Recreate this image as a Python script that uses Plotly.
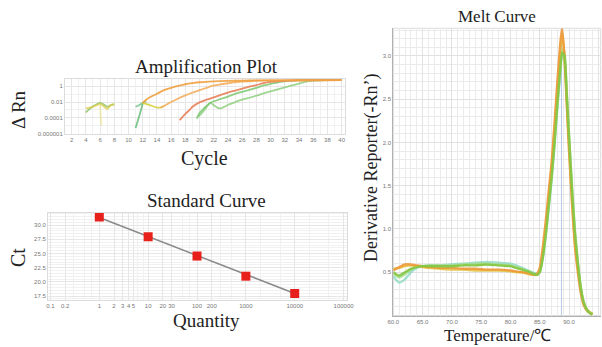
import plotly.graph_objects as go

# ---------------- Amplification plot data (cycle, delta Rn) ----------------
noise_g_x = [4, 4.5, 5, 5.5, 6, 6.5, 7, 7.5, 8]
noise_g_y = [5e-4, 1.3e-3, 3e-3, 5e-3, 8e-3, 5e-3, 2.5e-3, 4e-3, 5e-3]
noise_y_x = [4, 5, 5.5, 6, 6.5, 7, 7.5, 8]
noise_y_y = [1.6e-3, 2.5e-3, 4e-3, 6e-3, 3e-3, 1.3e-3, 4e-3, 6e-3]
drop_x = [6, 6.1, 6.2]
drop_y = [4e-3, 1e-4, 1e-5]
g1a_x = [11, 11.5, 12]
g1a_y = [5e-6, 1.6e-4, 6e-3]
g1b_x = [11, 11.5, 12, 12.5]
g1b_y = [2.5e-3, 4e-3, 8e-3, 1.2e-2]
a_x = [12, 12.5, 13, 14, 15, 16, 17, 18, 19, 20, 22, 24, 26, 28, 30, 34, 40]
a_y = [8e-3, 0.02, 0.04, 0.11, 0.32, 0.63, 1.1, 1.8, 2.5, 3.2, 4.2, 4.8, 5.2, 5.5, 5.6, 5.75, 5.9]
dip_x = [12, 13, 14, 14.5, 15]
dip_y = [8e-3, 4e-3, 2e-3, 2e-3, 3.2e-3]
b_x = [14.5, 15, 16, 17, 18, 19, 20, 21, 22, 23, 24, 26, 28, 30, 34, 40]
b_y = [2e-3, 3.2e-3, 0.01, 0.028, 0.07, 0.16, 0.32, 0.63, 1.26, 1.8, 2.4, 3.8, 5.0, 5.5, 5.75, 5.9]
c_x = [17.2, 18, 18.6, 19, 20, 21, 22, 23, 24, 25, 26, 27, 28, 29, 30, 32, 34, 40]
c_y = [5e-5, 3.2e-4, 1e-3, 2.5e-3, 9e-3, 0.02, 0.04, 0.08, 0.16, 0.28, 0.5, 0.9, 1.4, 2.5, 3.5, 5.0, 5.6, 5.9]
d_x = [19.6, 20, 20.5, 21, 21.5, 22, 23, 24, 25, 26, 27, 28, 29, 30, 31, 32, 33, 34, 36, 40]
d_y = [8e-5, 4e-4, 1.3e-3, 3.2e-3, 8e-3, 0.0126, 0.025, 0.05, 0.11, 0.2, 0.35, 0.63, 1.26, 2.0, 3.2, 4.2, 5.2, 6.0, 6.3, 6.3]
e_x = [19.8, 20.5, 21.5, 22, 22.5, 23, 23.5, 24, 25, 26, 27, 28, 29, 30, 31, 32, 33, 34, 35, 36, 38, 40]
e_y = [1.3e-4, 6e-4, 8e-3, 4e-3, 2e-3, 1.6e-3, 2.5e-3, 4.5e-3, 0.01, 0.02, 0.035, 0.063, 0.126, 0.22, 0.4, 0.7, 1.26, 2.2, 4.0, 5.2, 6.0, 6.3]

amp_ytickvals = [1, 0.01, 0.0001, 0.000001]
amp_yticktext = ["1", "0.01", "0.0001", "0.000001"]
amp_xtickvals = list(range(2, 41, 2))

# ---------------- Standard curve data ----------------
std_qty = [1, 10, 100, 1000, 10000]
std_ct = [31.45, 27.95, 24.55, 21.0, 17.95]
std_xtickvals = [0.1, 0.2, 1, 2, 3, 4, 5, 10, 20, 30, 100, 200, 1000, 10000, 100000]
std_xticktext = ["0.1", "0.2", "1", "2", "3", "4", "5", "10", "20", "30", "100", "200", "1000", "10000", "100000"]
fit_qty = [1, 10000]
fit_ct = [31.35, 17.95]

# ---------------- Melt curve data ----------------
melt_t = [60, 61, 62, 63, 64, 65, 66, 68, 70, 72, 74, 76, 78, 80, 81, 82, 83, 84,
          84.5, 85, 85.5, 86, 86.5, 87, 87.5, 88, 88.5, 88.8, 89.2, 89.6, 90, 90.5,
          91, 91.5, 92, 92.5, 93, 93.5, 94]
melt_orange = [0.52, 0.56, 0.59, 0.59, 0.58, 0.57, 0.56, 0.55, 0.55, 0.54, 0.54, 0.53, 0.53, 0.52,
               0.51, 0.50, 0.49, 0.47, 0.48, 0.55, 0.78, 1.08, 1.42, 1.75, 2.2, 2.7, 3.15, 3.32,
               3.02, 2.45, 1.9, 1.3, 0.8, 0.5, 0.26, 0.12, 0.06, 0.03, 0.01]
melt_yellow = [0.54, 0.55, 0.57, 0.58, 0.57, 0.56, 0.55, 0.54, 0.53, 0.53, 0.52, 0.52, 0.52, 0.51,
               0.50, 0.50, 0.48, 0.47, 0.47, 0.52, 0.72, 1.0, 1.35, 1.7, 2.12, 2.62, 3.05, 3.26,
               3.0, 2.5, 1.95, 1.35, 0.85, 0.55, 0.3, 0.14, 0.07, 0.04, 0.02]
melt_green = [0.5, 0.46, 0.5, 0.54, 0.56, 0.57, 0.57, 0.57, 0.57, 0.58, 0.58, 0.59, 0.58, 0.57,
              0.55, 0.53, 0.51, 0.48, 0.47, 0.5, 0.66, 0.92, 1.25, 1.58, 1.98, 2.45, 2.85, 3.04,
              3.0, 2.55, 2.05, 1.45, 0.95, 0.6, 0.32, 0.15, 0.07, 0.03, 0.01]
melt_lgreen = [0.48, 0.44, 0.48, 0.53, 0.56, 0.57, 0.58, 0.58, 0.58, 0.59, 0.6, 0.6, 0.59, 0.58,
               0.56, 0.54, 0.51, 0.48, 0.47, 0.5, 0.68, 0.95, 1.3, 1.62, 2.0, 2.45, 2.85, 3.08,
               3.05, 2.6, 2.1, 1.5, 1.0, 0.62, 0.33, 0.16, 0.08, 0.04, 0.02]
melt_teal = [0.45, 0.38, 0.42, 0.5, 0.55, 0.57, 0.58, 0.58, 0.59, 0.6, 0.61, 0.62, 0.61, 0.6,
             0.58, 0.55, 0.52, 0.49, 0.48, 0.5, 0.66, 0.9, 1.22, 1.55, 1.95, 2.4, 2.8, 3.0,
             2.98, 2.55, 2.05, 1.45, 0.95, 0.6, 0.32, 0.15, 0.07, 0.03, 0.01]
melt_marker_t = 88.7

W, H = 602, 347
SERIF = "Liberation Serif"
TICKF = dict(family="Liberation Sans", size=6, color="#777")


def px_x(p):
    return p / W


def px_y(p):
    return 1 - p / H


fig = go.Figure()

amp_series = [
    (noise_g_x, noise_g_y, "#88c060", 0.8),
    (noise_y_x, noise_y_y, "#e0d050", 0.8),
    (drop_x, drop_y, "#e8e070", 0.5),
    (g1a_x, g1a_y, "#60b870", 0.8),
    (g1b_x, g1b_y, "#70c080", 0.8),
    (dip_x, dip_y, "#d8d040", 0.9),
    (e_x, e_y, "#90d080", 0.85),
    (d_x, d_y, "#7cc870", 0.85),
    (c_x, c_y, "#e8805a", 0.9),
    (b_x, b_y, "#f4b060", 0.9),
    (a_x, a_y, "#f0a040", 0.9),
]
for xs, ys, col, op in amp_series:
    fig.add_trace(go.Scatter(x=xs, y=ys, mode="lines", xaxis="x", yaxis="y",
                             line=dict(color=col, width=1.8, shape="spline", smoothing=0.6),
                             opacity=op, hoverinfo="skip", showlegend=False))

fig.add_trace(go.Scatter(x=fit_qty, y=fit_ct, mode="lines", xaxis="x2", yaxis="y2",
                         line=dict(color="#8a8a8a", width=1.5), showlegend=False))
fig.add_trace(go.Scatter(x=std_qty, y=std_ct, mode="markers", xaxis="x2", yaxis="y2",
                         marker=dict(symbol="square", size=9, color="#e8201c"), showlegend=False))

melt_series = [
    (melt_teal, "#7fd6bc", 0.7),
    (melt_lgreen, "#a8dc8c", 0.8),
    (melt_yellow, "#e2c440", 0.85),
    (melt_orange, "#ef9a3a", 0.9),
    (melt_green, "#86c846", 0.95),
]
fig.add_trace(go.Scatter(x=[melt_marker_t, melt_marker_t], y=[0, 3.32], mode="lines",
                         xaxis="x3", yaxis="y3", line=dict(color="#b8c8e8", width=1),
                         showlegend=False))
for ys, col, op in melt_series:
    fig.add_trace(go.Scatter(x=melt_t, y=ys, mode="lines", xaxis="x3", yaxis="y3",
                             line=dict(color=col, width=2.4, shape="spline", smoothing=0.5),
                             opacity=op, showlegend=False))

GRID = "#e6e6e6"
MINOR = "#f1f1f1"
common = dict(automargin=False, zeroline=False, ticks="", tickfont=TICKF, tickangle=0)

fig.update_layout(
    width=W, height=H, margin=dict(l=0, r=0, t=0, b=0, autoexpand=False),
    paper_bgcolor="white", plot_bgcolor="white", showlegend=False,
    xaxis=dict(domain=[px_x(65), px_x(345)], range=[1.06, 40.47], anchor="y",
               tickvals=amp_xtickvals, showgrid=True, gridcolor=GRID,
               minor=dict(dtick=1, showgrid=True, gridcolor=MINOR),
               showline=True, linecolor="#dcdcdc", mirror=True, **common),
    yaxis=dict(domain=[px_y(134), px_y(79)], type="log", range=[-6.05, 0.92], anchor="x",
               tickvals=amp_ytickvals, ticktext=amp_yticktext,
               showgrid=True, gridcolor=GRID,
               minor=dict(tickvals=[1e-5, 1e-3, 1e-1, 10], showgrid=True, gridcolor=MINOR),
               showline=True, linecolor="#dcdcdc", mirror=True, **common),
    xaxis2=dict(domain=[px_x(48), px_x(347)], type="log", range=[-1.05, 5.07], anchor="y2",
                tickvals=std_xtickvals, ticktext=std_xticktext,
                showgrid=True, gridcolor=GRID,
                minor=dict(tickvals=[0.3, 0.5, 0.7, 6, 8, 50, 70, 300, 500, 2000, 5000, 20000, 50000],
                           showgrid=True, gridcolor=MINOR),
                showline=True, linecolor="#dcdcdc", mirror=True, **common),
    yaxis2=dict(domain=[px_y(300), px_y(212.7)], range=[16.8, 32.2], anchor="x2",
                tickvals=[17.5, 20, 22.5, 25, 27.5, 30], tickformat=".1f",
                showgrid=True, gridcolor=GRID,
                minor=dict(dtick=0.5, showgrid=True, gridcolor=MINOR),
                showline=True, linecolor="#dcdcdc", mirror=True, **common),
    xaxis3=dict(domain=[px_x(393.3), px_x(600.7)], range=[60, 95.4], anchor="y3",
                dtick=5, tick0=60, tickformat=".1f",
                showgrid=True, gridcolor="#e2e2e2",
                minor=dict(dtick=1, showgrid=True, gridcolor="#ececec"),
                showline=True, linecolor="#b0b0b0", mirror=False, **common),
    yaxis3=dict(domain=[px_y(315.5), px_y(28.3)], range=[0, 3.32], anchor="x3",
                tickvals=[0.5, 1.0, 1.5, 2.0, 2.5, 3.0], tickformat=".1f",
                showgrid=True, gridcolor="#e2e2e2",
                minor=dict(dtick=0.1, showgrid=True, gridcolor="#ececec"),
                showline=True, linecolor="#b0b0b0", mirror=False, **common),
)

# light frame on the top/right of the melt plot
fig.add_shape(type="rect", xref="x3 domain", yref="y3 domain", x0=0, x1=1, y0=0, y1=1,
              line=dict(color="#dadada", width=1), layer="below")

titles = [
    ("Amplification Plot", 206, 66, 19, 0),
    ("\u0394 Rn", 18, 110, 19, -90),
    ("Cycle", 204, 158, 20, 0),
    ("Standard Curve", 206, 201, 19, 0),
    ("Ct", 18, 258, 20, -90),
    ("Quantity", 206, 320, 19, 0),
    ("Melt Curve", 497, 16, 17, 0),
    ("Derivative Reporter(-Rn\u2019)", 371, 168, 18, -90),
    ("Temperature/\u2103", 497, 335, 17, 0),
]
for txt, x, y, size, ang in titles:
    fig.add_annotation(text=txt, x=px_x(x), y=px_y(y), xref="paper", yref="paper",
                       showarrow=False, xanchor="center", yanchor="middle", textangle=ang,
                       font=dict(family=SERIF, size=size, color="#222"))

fig.write_html("out.html", config={"displayModeBar": False},
               post_script="document.body.style.margin='0';document.body.style.overflow='hidden';")
